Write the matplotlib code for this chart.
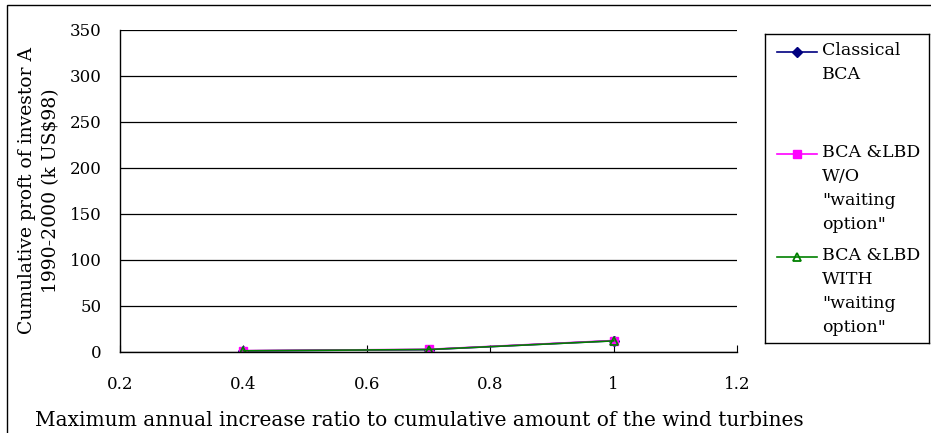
import matplotlib
matplotlib.use("Agg")
import matplotlib.pyplot as plt
from matplotlib.patches import Rectangle
from matplotlib.lines import Line2D

plt.rcParams['font.family'] = ['DejaVu Serif']
plt.rcParams['font.size'] = 11

# increase ratio vs cumulative profit (k US$98)
ratio = [0.4, 0.7, 1.0]
classical = [1.2, 2.6, 12.2]
lbd_wo_wait = [1.5, 2.9, 12.5]
lbd_with_wait = [1.3, 2.7, 12.1]

series_labels = ['Classical\nBCA',
                 'BCA &LBD\nW/O\n"waiting\noption"',
                 'BCA &LBD\nWITH\n"waiting\noption"']

W, H = 931, 433
fig = plt.figure(figsize=(W / 100, H / 100), dpi=100)

# outer frame
fig.patches.append(Rectangle((7 / W, -0.05), 1.0, 1 - 5 / H + 0.05,
                             transform=fig.transFigure, fill=False,
                             edgecolor='black', linewidth=1.0))

ax = fig.add_axes([120 / W, 1 - 352 / H, (737 - 120) / W, (352 - 30) / H])

styles = [
    dict(color='#000080', marker='D', markersize=5, markerfacecolor='#000080'),
    dict(color='#FF00FF', marker='s', markersize=6, markerfacecolor='#FF00FF'),
    dict(color='#008000', marker='^', markersize=6, markerfacecolor='none',
         markeredgewidth=1.3),
]
for ys, st in zip([classical, lbd_wo_wait, lbd_with_wait], styles):
    ax.plot(ratio, ys, linewidth=1.2, **st)

ax.set_xlim(0.2, 1.2)
ax.set_ylim(0, 350)
ax.set_xticks([0.2, 0.4, 0.6, 0.8, 1.0, 1.2])
ax.set_xticklabels(['0.2', '0.4', '0.6', '0.8', '1', '1.2'])
ax.set_yticks(range(0, 351, 50))
ax.yaxis.grid(True, color='black', linewidth=0.9)
ax.set_axisbelow(True)
ax.spines['top'].set_visible(False)
ax.spines['right'].set_visible(False)
ax.spines['left'].set_linewidth(1.0)
ax.spines['bottom'].set_linewidth(1.0)
ax.tick_params(axis='x', direction='in', length=5, pad=17, labelsize=12)
ax.tick_params(axis='y', length=0, pad=13, labelsize=12)

fig.text(35 / W, 1 - 420 / H,
         'Maximum annual increase ratio to cumulative amount of the wind turbines',
         ha='left', va='center', fontsize=14.5)
fig.text(39 / W, 1 - 191 / H,
         'Cumulative proft of investor A\n1990-2000 (k US$98)',
         rotation=90, ha='center', va='center', multialignment='center',
         fontsize=13.5, linespacing=1.38)

# legend box drawn in pixel units
lax = fig.add_axes([765 / W, 1 - 343 / H, (929 - 765) / W, (343 - 34) / H])
lax.set_xlim(765, 929)
lax.set_ylim(343, 34)
lax.set_xticks([])
lax.set_yticks([])
for s in lax.spines.values():
    s.set_linewidth(1.0)
entry_y = [52, 154, 257]
for y, st, lab in zip(entry_y, styles, series_labels):
    lax.add_line(Line2D([777, 817], [y, y], linewidth=1.2, color=st['color']))
    lax.plot([797], [y], linestyle='none', **st)
    lax.text(822, y - 10, lab, ha='left', va='top', fontsize=12.5, linespacing=1.55)

fig.savefig('out.png', dpi=100)
